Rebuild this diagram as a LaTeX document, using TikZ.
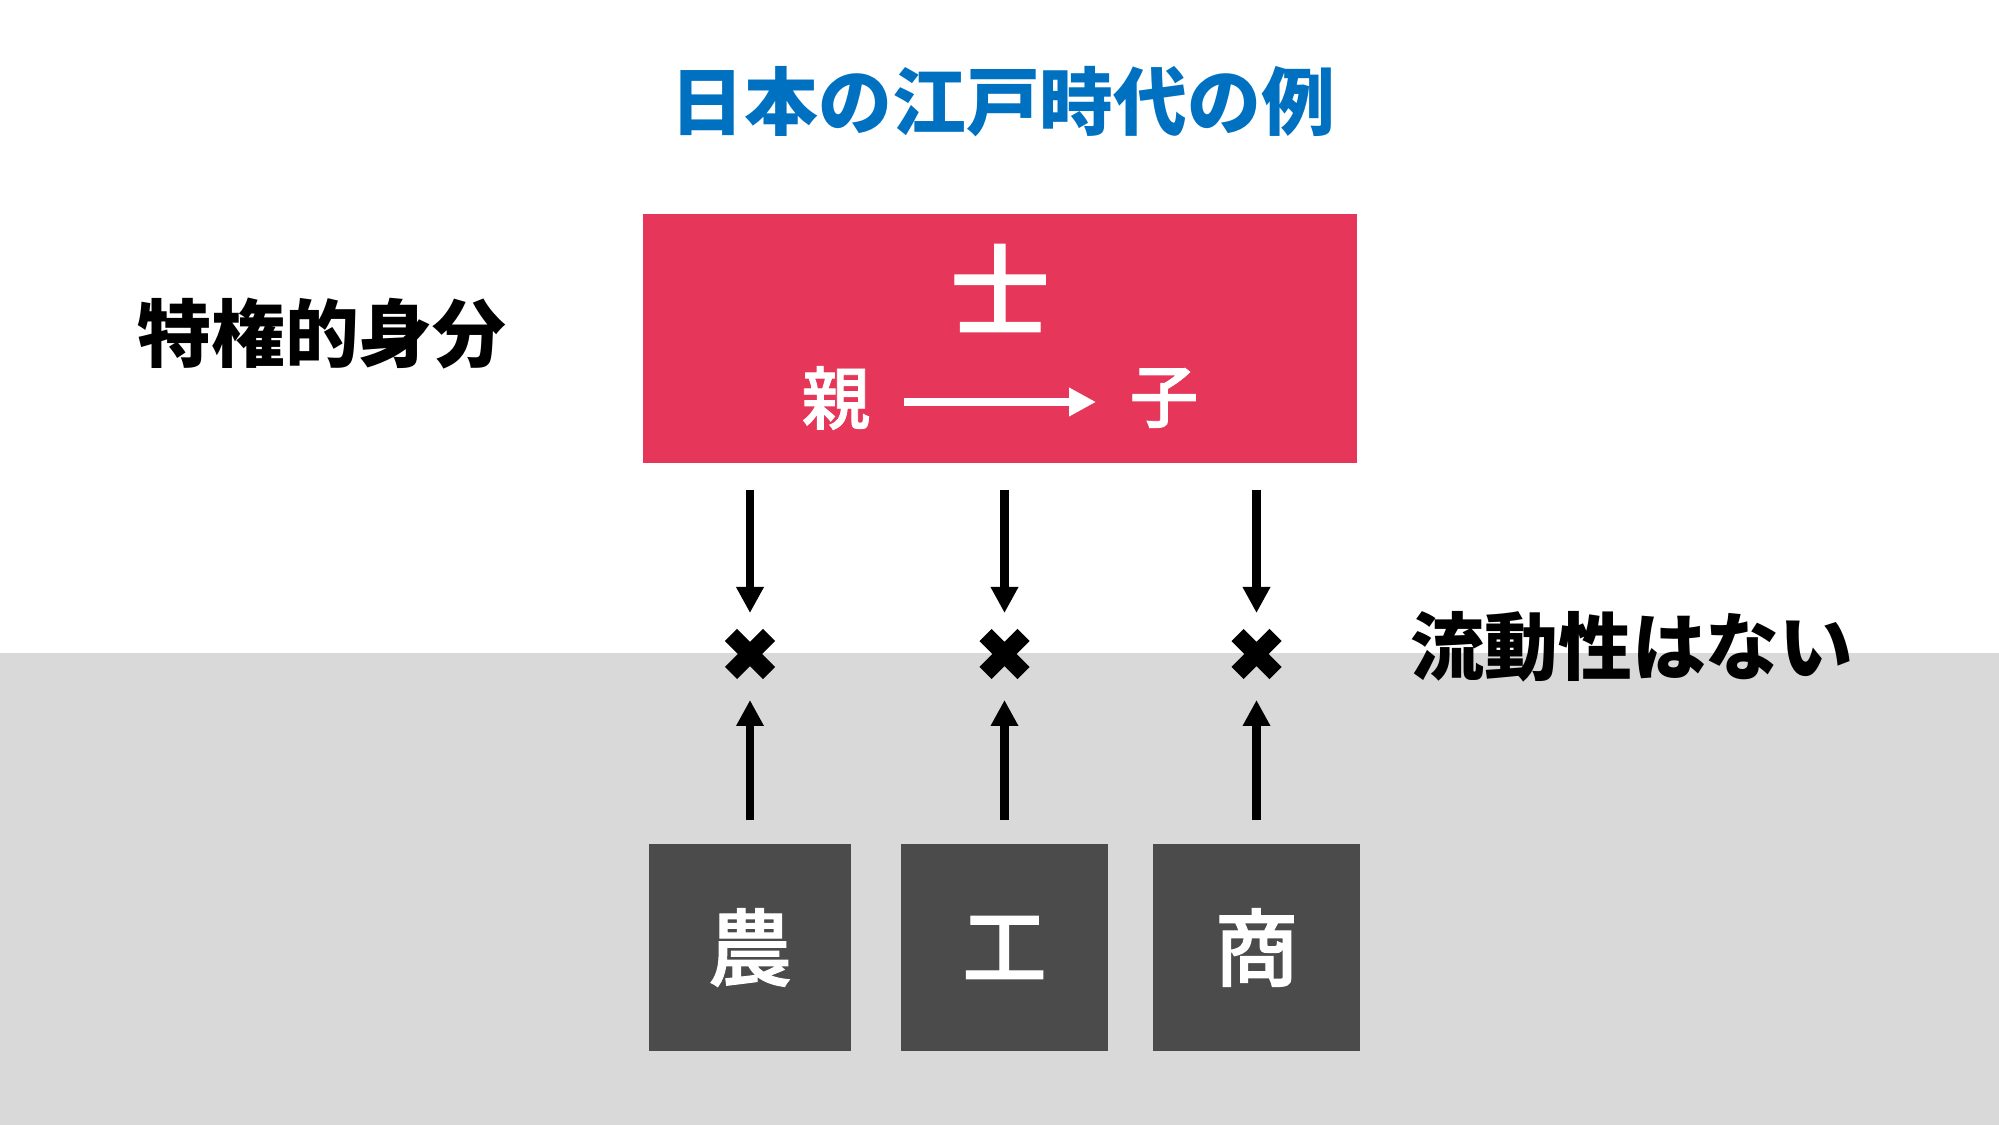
\documentclass[tikz,border=0pt]{standalone}
\usepackage{fontspec}
\newfontfamily\jpfont{Noto Sans CJK JP}
\newfontfamily\jpmedium{Noto Sans CJK JP Medium}[FakeBold=1.2]
\usetikzlibrary{arrows.meta,shapes.misc}

\definecolor{edoblue}{RGB}{0,112,192}
\definecolor{shired}{RGB}{230,54,89}
\definecolor{classgray}{RGB}{75,75,75}
\definecolor{lowband}{RGB}{217,217,217}

\tikzset{
	sidetext/.style={inner sep=0pt, font=\jpfont\bfseries\fontsize{21pt}{25pt}\selectfont},
	classbox/.style={rectangle, fill=classgray, text=white, minimum height=2.07cm, font=\jpmedium\fontsize{24pt}{28pt}\selectfont},
	nocross/.style={cross out, draw=black, line width=0.17cm, line cap=butt, minimum size=0.38cm, inner sep=0pt, outer sep=0pt},
	blockarrow/.style={line width=0.085cm, -{Triangle[length=0.26cm, width=0.26cm]}},
}

\begin{document}
\begin{tikzpicture}

\useasboundingbox (0, 0) rectangle (19.99, 11.25);
\fill[lowband] (0, 0) rectangle (19.99, 4.72);

\node (title) at (10.03, 10.23) [sidetext, text=edoblue] {日本の江戸時代の例};

\node (Shi) at (10.00, 7.865) [rectangle, fill=shired, minimum width=7.14cm, minimum height=2.49cm] {};
\node (shi) at (10.00, 8.37) [inner sep=0pt, text=white, font=\jpmedium\fontsize{28.5pt}{32pt}\selectfont] {士};
\node (oya) at (8.36, 7.27) [inner sep=0pt, text=white, font=\jpmedium\fontsize{19.5pt}{23pt}\selectfont] {親};
\node (ko) at (11.64, 7.27) [inner sep=0pt, text=white, font=\jpmedium\fontsize{19.5pt}{23pt}\selectfont] {子};
\draw[white, line width=0.08cm, -{Triangle[length=0.27cm, width=0.27cm]}, shorten <=0.33cm, shorten >=0.33cm] ([yshift=-0.04cm]oya.east) -- ([yshift=-0.04cm]ko.west);

\node (priv) at (3.22, 7.91) [sidetext] {特権的身分};
\node (flow) at (16.32, 4.78) [sidetext] {流動性はない};

\foreach \n/\x/\w/\txt in {1/7.50/2.02/農, 2/10.045/2.07/工, 3/12.565/2.07/商} {
	\node (x\n) at (\x, 4.71) [nocross] {};
	\node (b\n) at (\x, 1.775) [classbox, minimum width=\w cm] {\txt};
	\draw[blockarrow, shorten <=0.26cm, shorten >=0.22cm] (Shi.south -| x\n) -- (x\n.north);
	\draw[blockarrow, shorten <=0.23cm, shorten >=0.27cm] (b\n.north) -- (x\n.south);
}

\end{tikzpicture}
\end{document}
